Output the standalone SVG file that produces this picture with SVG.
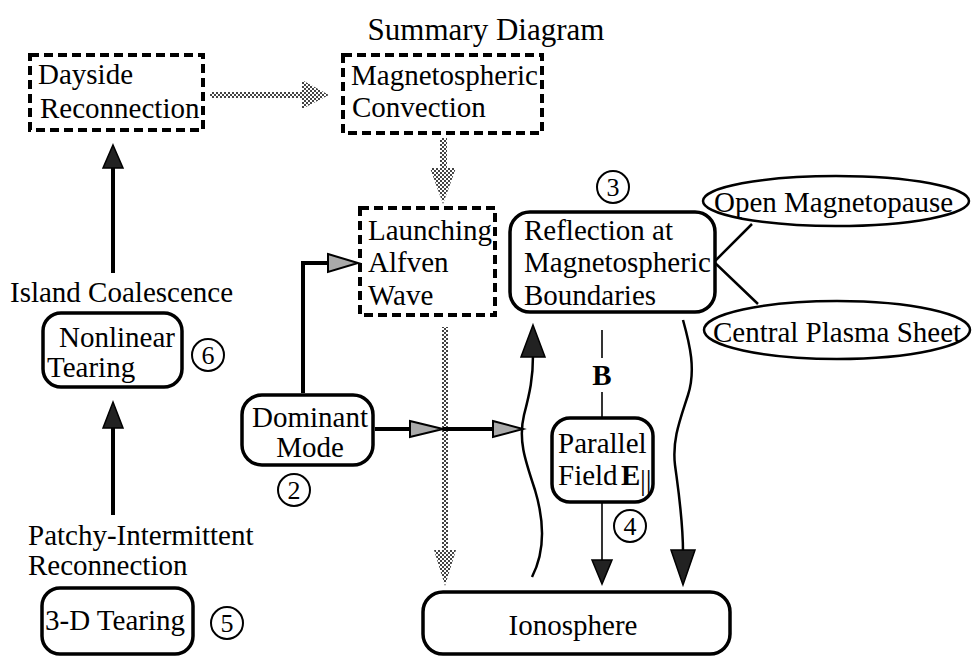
<svg xmlns="http://www.w3.org/2000/svg" width="974" height="657" viewBox="0 0 974 657">
  <style>
    text { font-family: "Liberation Serif", "Times New Roman", serif; font-size: 29px; fill: #000; }
    .title { font-size: 31px; }
    .dashed { fill: none; stroke: #000; stroke-width: 4; stroke-dasharray: 9 5; }
    .box { fill: #fff; stroke: #000; stroke-width: 3.5; }
    .oval { fill: #fff; stroke: #000; stroke-width: 2.5; }
    .num { fill: none; stroke: #000; stroke-width: 2; }
    .numt { font-size: 26px; text-anchor: middle; }
    .thick { fill: none; stroke: #000; stroke-width: 4; }
    .wire { fill: none; stroke: #000; stroke-width: 2.5; }
    .thin { fill: none; stroke: #000; stroke-width: 1.6; }
    .head { fill: #222; stroke: #000; stroke-width: 1.5; }
    .lighthead { fill: #aaa; stroke: #000; stroke-width: 2; }
    .grey { fill: url(#checker); stroke: none; }
  </style>
  <defs>
    <pattern id="checker" width="4" height="4" patternUnits="userSpaceOnUse">
      <rect width="4" height="4" fill="#fff"/>
      <rect width="2" height="2" fill="#444"/>
      <rect x="2" y="2" width="2" height="2" fill="#444"/>
    </pattern>
  </defs>

  <text class="title" x="486" y="40" text-anchor="middle">Summary Diagram</text>

  <!-- connectors -->
  <g id="connectors">
    <!-- Dayside -> Magnetospheric Convection (grey) -->
    <rect class="grey" x="210" y="92" width="94" height="6"/>
    <polygon class="grey" points="302,80 329,95 302,109"/>
    <!-- Magnetospheric Convection -> Launching (grey) -->
    <rect class="grey" x="440" y="138" width="7" height="32"/>
    <polygon class="grey" points="430,168 456,168 443,204"/>
    <!-- Launching -> Ionosphere (grey) -->
    <rect class="grey" x="442" y="327" width="6" height="225"/>
    <polygon class="grey" points="434,550 456,550 445,586"/>

    <!-- Nonlinear Tearing -> Dayside -->
    <line class="thick" x1="113" y1="273" x2="113" y2="166"/>
    <polygon class="head" points="113,145 123,168 103,168"/>
    <!-- 3-D Tearing -> Nonlinear Tearing -->
    <line class="thick" x1="113" y1="515" x2="113" y2="426"/>
    <polygon class="head" points="113,402 123,428 103,428"/>

    <!-- Dominant Mode -> Launching -->
    <path class="thick" d="M303,393 V263 H330"/>
    <polygon class="lighthead" points="328,254 358,263 328,272"/>
    <!-- Dominant Mode -> right -->
    <line class="thick" x1="375" y1="429" x2="412" y2="429"/>
    <polygon class="lighthead" points="410,421 443,429 410,437"/>
    <line class="thick" x1="443" y1="429" x2="495" y2="429"/>
    <polygon class="lighthead" points="493,421 523,429 493,437"/>

    <!-- wavy path up to Reflection -->
    <path class="wire" d="M532,577 C546,550 544,520 535,490 C525,460 518,440 524,415 C530,392 533,378 533,355"/>
    <polygon class="head" points="533,325 545,357 521,357"/>

    <!-- wavy path down to Ionosphere -->
    <path class="wire" d="M683,320 C690,345 696,370 688,395 C680,420 672,440 675,465 C679,495 683,520 683,552"/>
    <polygon class="head" points="671,550 695,550 683,585"/>

    <!-- B field line and Parallel Field -> Ionosphere -->
    <line class="thin" x1="602" y1="330" x2="602" y2="358"/>
    <line class="thin" x1="602" y1="392" x2="602" y2="418"/>
    <line class="thin" x1="602" y1="502" x2="602" y2="562"/>
    <polygon class="head" points="592,560 612,560 602,584"/>

    <!-- Reflection -> boundary ellipses -->
    <polyline class="wire" points="752,224 714,262 758,304"/>
  </g>

  <g id="dayside">
    <rect class="dashed" x="30" y="55" width="173" height="75"/>
    <text x="38" y="84">Dayside</text>
    <text x="40" y="118">Reconnection</text>
  </g>

  <g id="convection">
    <rect class="dashed" x="343" y="55" width="199" height="78"/>
    <text x="351" y="85">Magnetospheric</text>
    <text x="352" y="117">Convection</text>
  </g>

  <g id="launching">
    <rect class="dashed" x="360" y="208" width="135" height="107"/>
    <text x="368" y="240">Launching</text>
    <text x="368" y="272">Alfven</text>
    <text x="368" y="305">Wave</text>
  </g>

  <g id="reflection">
    <rect class="box" x="510" y="212" width="205" height="100" rx="20"/>
    <text x="524" y="240">Reflection at</text>
    <text x="524" y="272">Magnetospheric</text>
    <text x="524" y="305">Boundaries</text>
    <circle class="num" cx="613" cy="187" r="16"/>
    <text class="numt" x="613" y="196">3</text>
  </g>

  <g id="open-magnetopause">
    <ellipse class="oval" cx="836" cy="201" rx="133" ry="25"/>
    <text x="714" y="212">Open Magnetopause</text>
  </g>

  <g id="plasma-sheet">
    <ellipse class="oval" cx="837" cy="330" rx="133" ry="29"/>
    <text x="713" y="342">Central Plasma Sheet</text>
  </g>

  <g id="nonlinear">
    <text x="10" y="302">Island Coalescence</text>
    <rect class="box" x="43" y="313" width="139" height="74" rx="18"/>
    <text x="59" y="347">Nonlinear</text>
    <text x="47" y="377">Tearing</text>
    <circle class="num" cx="208" cy="355" r="16"/>
    <text class="numt" x="208" y="364">6</text>
  </g>

  <g id="dominant">
    <rect class="box" x="242" y="395" width="131" height="70" rx="20"/>
    <text x="310" y="427" text-anchor="middle">Dominant</text>
    <text x="310" y="457" text-anchor="middle">Mode</text>
    <circle class="num" cx="294" cy="490" r="16"/>
    <text class="numt" x="294" y="499">2</text>
  </g>

  <g id="parallel">
    <text x="602" y="385" text-anchor="middle" font-weight="bold" font-size="26">B</text>
    <rect class="box" x="552" y="418" width="101" height="84" rx="18"/>
    <text x="558" y="453">Parallel</text>
    <text x="558" y="485">Field</text>
    <text x="621" y="485" font-weight="bold">E</text>
    <text x="640" y="490" font-size="14">||</text>
    <circle class="num" cx="630" cy="526" r="16"/>
    <text class="numt" x="630" y="535">4</text>
  </g>

  <g id="tearing3d">
    <text x="28" y="545">Patchy-Intermittent</text>
    <text x="28" y="575">Reconnection</text>
    <rect class="box" x="42" y="588" width="151" height="66" rx="18"/>
    <text x="45" y="630">3-D Tearing</text>
    <circle class="num" cx="227" cy="623" r="16"/>
    <text class="numt" x="227" y="632">5</text>
  </g>

  <g id="ionosphere">
    <rect class="box" x="423" y="592" width="307" height="62" rx="20"/>
    <text x="573" y="635" text-anchor="middle">Ionosphere</text>
  </g>
</svg>
